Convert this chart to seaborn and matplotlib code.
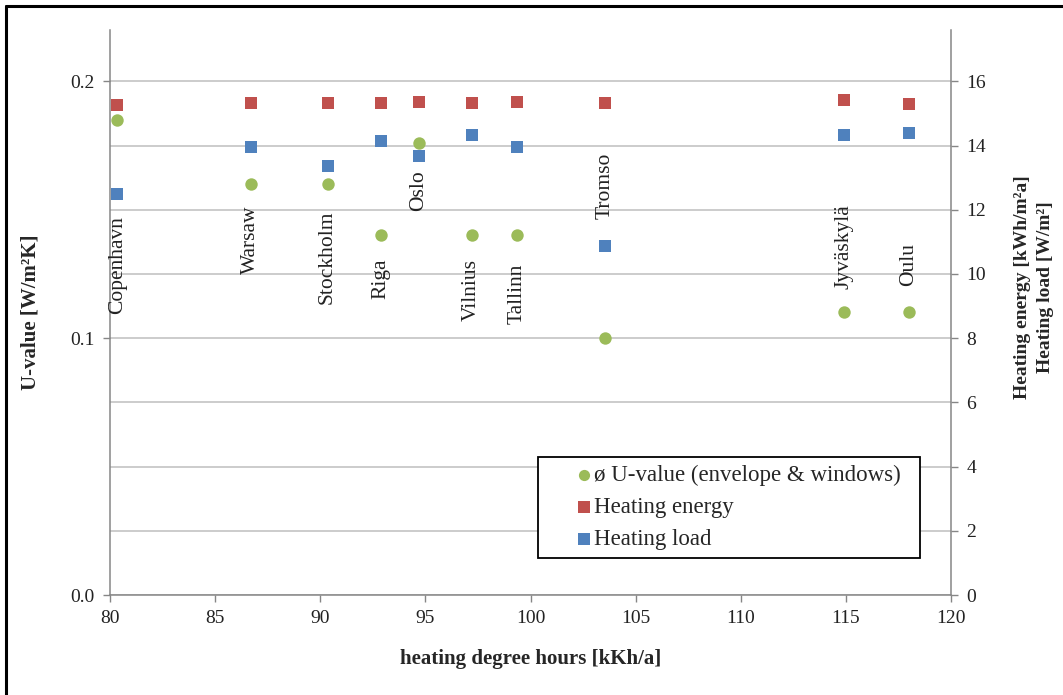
import matplotlib
matplotlib.use("Agg")
import matplotlib.pyplot as plt
import seaborn as sns
from matplotlib.lines import Line2D
from matplotlib.ticker import MultipleLocator, FormatStrFormatter

# data
cities = ['Copenhavn', 'Warsaw', 'Stockholm', 'Riga', 'Oslo',
          'Vilnius', 'Tallinn', 'Tromso', 'Jyväskylä', 'Oulu']
hdh = [80.35, 86.7, 90.35, 92.9, 94.7, 97.2, 99.35, 103.55, 114.9, 118.0]
u_value = [0.185, 0.160, 0.160, 0.140, 0.176, 0.140, 0.140, 0.100, 0.110, 0.110]
heating_energy = [15.25, 15.33, 15.33, 15.33, 15.36, 15.33, 15.36, 15.33, 15.41, 15.28]
heating_load = [12.50, 13.95, 13.36, 14.14, 13.67, 14.34, 13.97, 10.87, 14.34, 14.40]

# where the rotated city names start (in U-value units)
label_y = [0.1095, 0.125, 0.1134, 0.1153, 0.1496, 0.1068, 0.1056, 0.1465, 0.1192, 0.1204]

green = '#9BBB59'
red = '#C0504D'
blue = '#4F81BD'
grey = '#868686'

sns.set_style("white")
plt.rcParams['font.family'] = ['Liberation Serif', 'DejaVu Serif']

fig = plt.figure(figsize=(10.63, 6.95), dpi=100)
ax = fig.add_axes([110 / 1063, 1 - 595 / 695, 841 / 1063, 565 / 695])
ax2 = ax.twinx()

sns.scatterplot(x=hdh, y=u_value, ax=ax, color=green, marker='o', s=80,
                linewidth=0, label='ø U-value (envelope & windows)', legend=False, zorder=3)
sns.scatterplot(x=hdh, y=heating_energy, ax=ax2, color=red, marker='s', s=85,
                linewidth=0, label='Heating energy', legend=False, zorder=3)
sns.scatterplot(x=hdh, y=heating_load, ax=ax2, color=blue, marker='s', s=85,
                linewidth=0, label='Heating load', legend=False, zorder=3)

for name, x, y in zip(cities, hdh, label_y):
    ax.text(x, y, name, rotation=90, ha='center', va='bottom', fontsize=15.5, color='#222222')

ax.set_xlim(80, 120)
ax.set_ylim(0, 0.22)
ax2.set_ylim(0, 17.6)
ax.xaxis.set_major_locator(MultipleLocator(5))
ax.yaxis.set_major_locator(MultipleLocator(0.1))
ax.yaxis.set_minor_locator(MultipleLocator(0.025))
ax.yaxis.set_major_formatter(FormatStrFormatter('%.1f'))
ax2.yaxis.set_major_locator(MultipleLocator(2))

ax.grid(True, which='both', axis='y', color='#BFBFBF', linewidth=1.1)
ax.grid(False, axis='x')
ax.set_axisbelow(True)

for a in (ax, ax2):
    for s in a.spines.values():
        s.set_visible(False)
ax.spines['left'].set_visible(True)
ax.spines['bottom'].set_visible(True)
ax2.spines['right'].set_visible(True)
for s in (ax.spines['left'], ax.spines['bottom'], ax2.spines['right']):
    s.set_color(grey)
    s.set_linewidth(1.1)

ax.tick_params(axis='both', which='major', direction='out', length=5, width=1,
               color=grey, labelsize=14, labelcolor='#222222', pad=6)
ax.tick_params(axis='y', which='minor', length=0)
ax.tick_params(left=True, bottom=True)
ax2.tick_params(axis='y', direction='out', length=5, width=1, color=grey,
                labelsize=14, labelcolor='#222222', pad=6, right=True)

ax.set_xlabel('heating degree hours [kKh/a]', fontsize=15, fontweight='bold')
ax.xaxis.set_label_coords(0.5, -0.095)
ax.set_ylabel('U-value [W/m²K]', fontsize=15, fontweight='bold')
ax.yaxis.set_label_coords(-0.083, 0.5)
ax2.set_ylabel('Heating energy [kWh/m²a]\nHeating load [W/m²]', fontsize=14,
               fontweight='bold', rotation=90, linespacing=1.45)
ax2.yaxis.set_label_coords(1.075, 0.545)

h1, l1 = ax.get_legend_handles_labels()
h2, l2 = ax2.get_legend_handles_labels()
leg = ax2.legend(h1 + h2, l1 + l2, loc='upper left',
                 bbox_to_anchor=(0.509, 0.062, 0.454, 0.182), mode='expand',
                 borderaxespad=0, fontsize=16.5, frameon=True, fancybox=False,
                 framealpha=1, edgecolor='black', handletextpad=-1.2,
                 handlelength=3.3, labelspacing=0.48, borderpad=0.35,
                 markerscale=0.9)
leg.get_frame().set_linewidth(1.3)
leg.set_zorder(10)

# outer frame of the picture (left and top edges only)
fig.add_artist(Line2D([5.5 / 1063, 5.5 / 1063], [0, 1 - 6 / 695], color='black',
                      linewidth=2.2, transform=fig.transFigure))
fig.add_artist(Line2D([5.5 / 1063, 1], [1 - 6 / 695, 1 - 6 / 695], color='black',
                      linewidth=2.2, transform=fig.transFigure))

fig.savefig('out.png', dpi=100)
